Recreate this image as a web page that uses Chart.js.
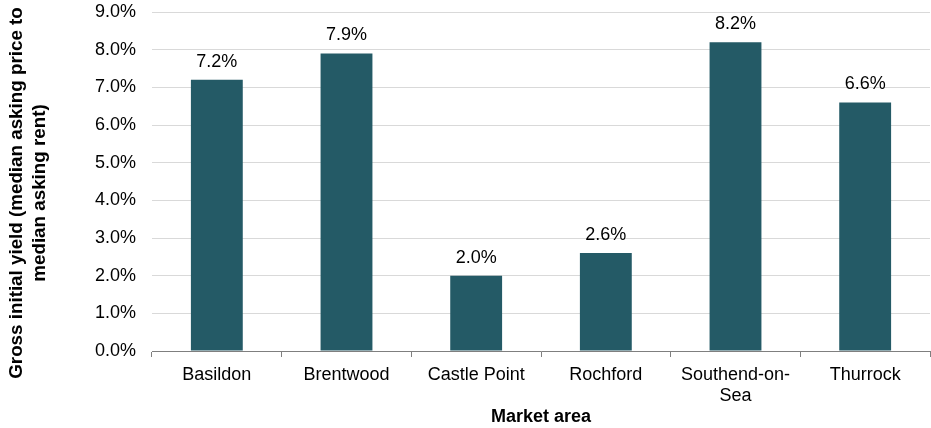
<!DOCTYPE html>
<html>
<head>
<meta charset="utf-8">
<script src="https://cdn.jsdelivr.net/npm/chart.js@4"></script>
<style>
  html, body { margin: 0; padding: 0; background: #fff; }
  #wrap { width: 931px; height: 428px; }
</style>
</head>
<body>
<div id="wrap"><canvas id="yieldChart"></canvas></div>
<script>
// ---------------- DATA ----------------
const areas = ["Basildon", "Brentwood", "Castle Point", "Rochford", ["Southend-on-", "Sea"], "Thurrock"];
const yields = [7.2, 7.9, 2.0, 2.6, 8.2, 6.6];
const yTicks = [0, 1, 2, 3, 4, 5, 6, 7, 8, 9];
const yTitle = ["Gross initial yield (median asking price to", "median asking rent)"];

const barColor = "#245a66";
const font = "'Liberation Sans', Arial, sans-serif";

// ---------------- VALUE LABELS + Y TITLE ----------------
const valueLabels = {
    id: "valueLabels",
    afterDatasetsDraw(chart) {
        const ctx = chart.ctx;
        const meta = chart.getDatasetMeta(0);
        ctx.save();
        ctx.font = "18px " + font;
        ctx.fillStyle = "#000";
        ctx.textAlign = "center";
        ctx.textBaseline = "alphabetic";
        meta.data.forEach((bar, i) => {
            ctx.fillText(yields[i].toFixed(1) + "%", bar.x, bar.y - 13);
        });
        ctx.restore();
    },
    afterDraw(chart) {
        // y title sits a bit lower than the plot centre in the original
        const ctx = chart.ctx;
        ctx.save();
        ctx.translate(0, 193);
        ctx.rotate(-Math.PI / 2);
        ctx.font = "bold 18.8px " + font;
        ctx.fillStyle = "#000";
        ctx.textAlign = "center";
        ctx.textBaseline = "middle";
        ctx.fillText(yTitle[0], 0, 17);
        ctx.fillText(yTitle[1], 0, 40);
        ctx.restore();
    }
};

// ---------------- CHART ----------------
new Chart(document.getElementById("yieldChart"), {
    type: "bar",
    data: {
        labels: areas,
        datasets: [{
            data: yields,
            backgroundColor: barColor,
            borderWidth: 0,
            categoryPercentage: 1,
            barPercentage: 0.4
        }]
    },
    options: {
        responsive: true,
        maintainAspectRatio: false,
        animation: false,
        layout: { padding: { top: 12, right: 1, left: 0, bottom: 0 } },
        plugins: {
            legend: { display: false },
            tooltip: { enabled: false }
        },
        scales: {
            x: {
                grid: {
                    display: true,
                    drawOnChartArea: false,
                    drawTicks: true,
                    tickLength: 6,
                    color: "#7f7f7f",
                    offset: true
                },
                border: { display: true, color: "#7f7f7f", width: 1 },
                ticks: {
                    color: "#000",
                    font: { family: font, size: 18, lineHeight: 1.15 },
                    padding: 8,
                    maxRotation: 0,
                    autoSkip: false
                },
                title: {
                    display: true,
                    text: "Market area",
                    color: "#000",
                    font: { family: font, size: 18, weight: "bold" },
                    padding: { top: 0, bottom: 0 }
                },
                afterFit(scale) {
                    scale.height = 77;
                    scale.paddingLeft = 0;
                    scale.paddingRight = 0;
                }
            },
            y: {
                min: 0,
                max: 9,
                afterBuildTicks(scale) {
                    scale.ticks = yTicks.map(v => ({ value: v }));
                },
                grid: {
                    color: "#d9d9d9",
                    drawTicks: false
                },
                border: { display: false },
                ticks: {
                    color: "#000",
                    font: { family: font, size: 18 },
                    padding: 16,
                    callback: v => v.toFixed(1) + "%"
                },
                title: { display: false },
                afterFit(scale) {
                    scale.width = 152;
                    scale.paddingTop = 0;
                    scale.paddingBottom = 0;
                }
            }
        }
    },
    plugins: [valueLabels]
});
</script>
</body>
</html>
